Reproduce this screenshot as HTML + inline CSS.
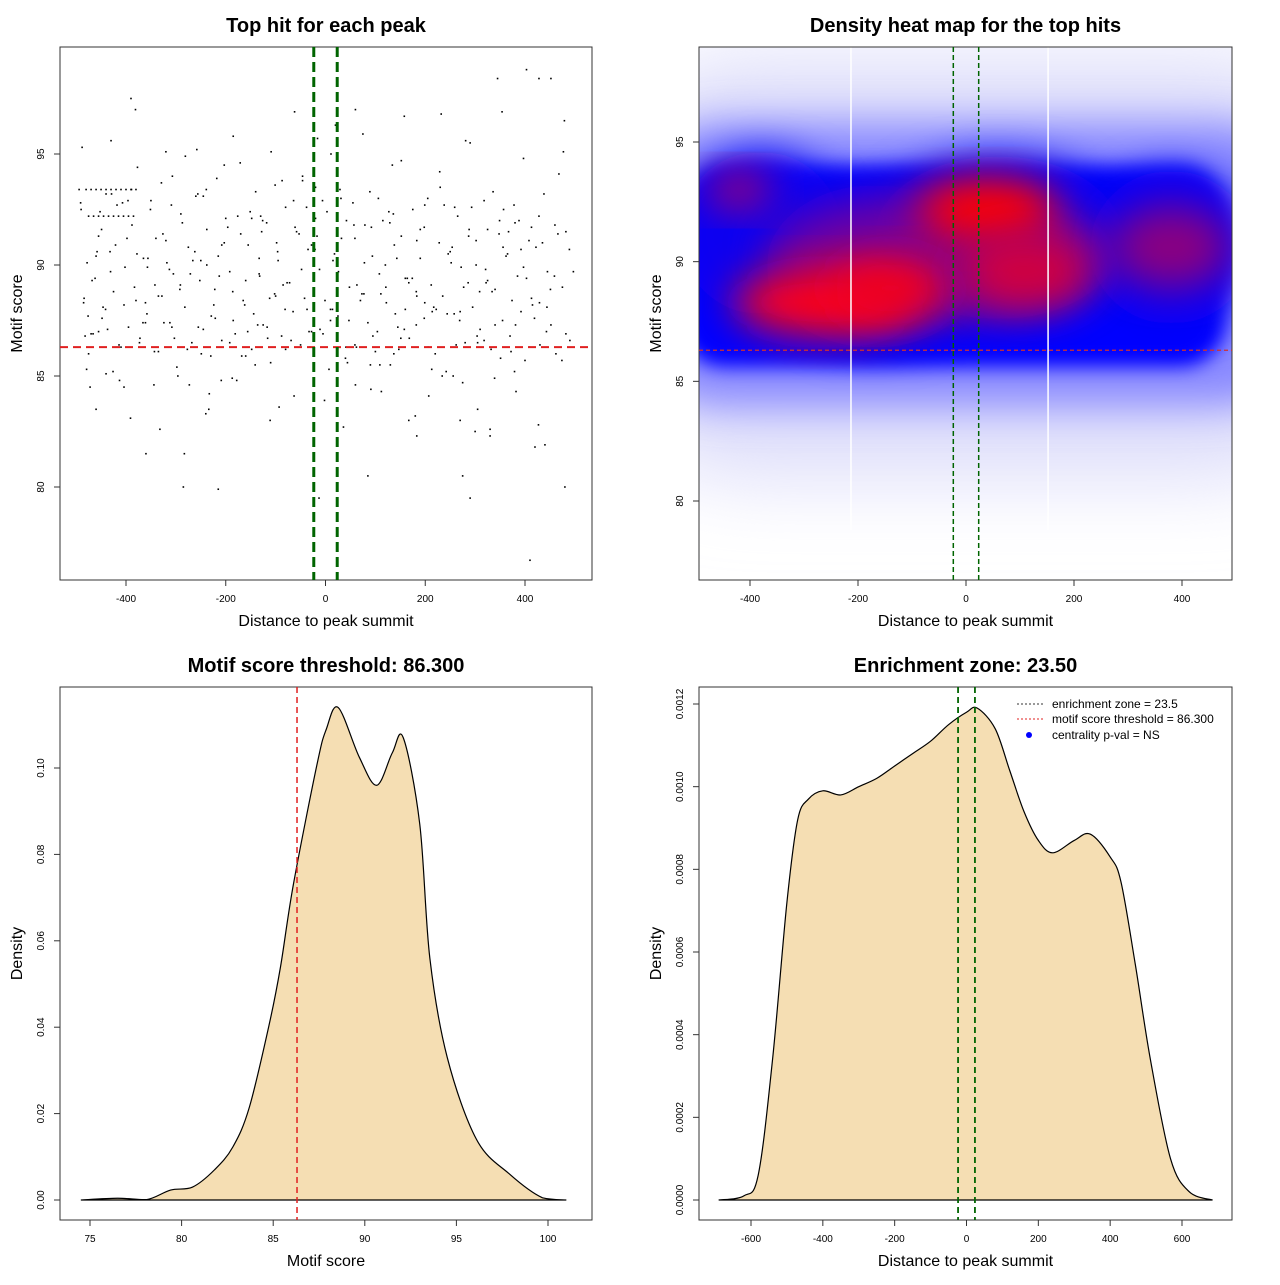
<!DOCTYPE html>
<html><head><meta charset="utf-8"><style>
body{margin:0;background:#fff;overflow:hidden;}
svg text{font-family:"Liberation Sans",sans-serif;}
</style></head><body>
<svg id="s" width="1280" height="1280" viewBox="0 0 1280 1280" xmlns="http://www.w3.org/2000/svg">
<defs>
<clipPath id="c2"><rect x="699" y="47" width="533" height="533"/></clipPath>
<filter id="blur" x="-50%" y="-50%" width="200%" height="200%"><feGaussianBlur stdDeviation="20"/></filter>
<filter id="blurS" x="-50%" y="-50%" width="200%" height="200%"><feGaussianBlur stdDeviation="9"/></filter>
<filter id="blur2" x="-50%" y="-50%" width="200%" height="200%"><feGaussianBlur stdDeviation="40"/></filter>
</defs>
<g id="p1"></g>
<g id="p2"></g>
<g id="p3"></g>
<g id="p4"></g>
</svg>
<script>
// ---- Scatter data (distance, score) ----
const scatterX=[-480,-470,-460,-450,-440,-430,-420,-410,-400,-390,-380,-475,-465,-455,-445,-435,-425,-415,-405,-395,-385,
-490,-485,-478,-470,-462,-455,-448,-440,-432,-425,-418,-410,-402,-395,-388,-380,-372,-365,-358,-350,-342,-335,-328,-320,-312,-305,-298,-290,-282,-275,-268,-260,-252,-245,-238,-230,-222,-215,-208,-200,-192,-185,-178,-170,-162,-155,-148,-140,-132,-125,-118,-110,-102,-95,-88,-80,-72,-65,-58,-50,-42,-35,-28,-20,-12,-5,3,10,18,25,32,40,48,55,62,70,78,85,92,100,108,115,122,130,138,145,152,160,168,175,182,190,198,205,212,220,228,235,242,250,258,265,272,280,288,295,302,310,318,325,332,340,348,355,362,370,378,385,392,400,408,415,422,430,438,445,452,460,468,475,482,490,
-488,-472,-458,-441,-426,-407,-391,-377,-361,-344,-329,-313,-296,-281,-266,-249,-233,-218,-203,-187,-171,-156,-141,-126,-109,-93,-77,-61,-46,-31,-16,-2,14,29,44,59,75,91,106,121,137,152,167,183,198,213,229,244,259,275,290,305,321,336,351,367,382,397,413,428,443,459,474,489,
-484,-466,-449,-431,-413,-396,-378,-361,-343,-326,-308,-291,-273,-256,-238,-221,-203,-186,-168,-151,-133,-116,-98,-81,-63,-46,-28,-11,7,24,42,59,77,94,112,129,147,164,182,199,217,234,252,269,287,304,322,339,357,374,392,409,427,444,462,479,
-479,-455,-430,-404,-381,-356,-332,-307,-283,-258,-234,-209,-185,-160,-136,-111,-87,-62,-38,-13,11,36,60,85,109,134,158,183,207,232,256,281,305,330,354,379,403,428,452,477,
-285,290,410,-360,-240,-460,300,-130,90,160,270,440,-475,60,330,-390,180,420,-215,-320,-20,275,345,20,480,-440,-250,140,380,-100,
-494,-482,-468,-452,-437,-421,-404,-389,-373,-357,-340,-324,-309,-292,-277,-262,-245,-229,-213,-196,-181,-165,-148,-133,-117,-101,-85,-69,-53,-37,-21,-6,10,26,41,57,73,89,104,120,136,151,167,183,199,214,230,246,262,277,293,309,325,340,356,372,388,403,419,435,451,466,482,497,
-491,-476,-460,-446,-429,-414,-398,-383,-366,-351,-335,-318,-303,-287,-271,-255,-239,-224,-208,-192,-176,-160,-144,-128,-112,-96,-80,-64,-48,-33,-17,-1,15,31,47,63,79,95,111,127,143,158,174,190,206,222,238,254,270,286,302,318,334,349,365,381,397,413,429,445,461,477,493];
const scatterY=[93.4,93.4,93.4,93.4,93.4,93.4,93.4,93.4,93.4,93.4,93.4,92.2,92.2,92.2,92.2,92.2,92.2,92.2,92.2,92.2,92.2,
92.5,88.3,90.1,86.9,89.4,91.3,87.6,85.1,90.6,88.8,92.7,86.3,89.9,87.2,91.8,88.4,86.7,90.3,87.8,92.9,89.1,86.1,88.6,91.1,87.4,89.6,85.4,92.3,88.1,90.8,86.5,93.1,89.3,87.1,91.6,85.9,88.9,90.4,86.6,92.1,89.7,87.5,84.8,91.4,88.2,90.9,86.2,93.3,89.5,87.3,91.9,85.6,88.7,90.2,86.8,92.6,89.2,87.9,91.5,86.4,88.5,90.7,87.0,93.5,89.8,86.9,92.4,88.0,90.5,87.7,91.2,85.8,89.0,92.8,86.3,88.4,90.1,87.4,91.7,86.1,89.6,92.0,88.3,85.5,90.9,87.2,91.3,89.4,86.7,92.5,88.8,90.3,87.6,93.0,89.1,86.0,91.0,88.6,85.2,90.6,87.8,92.2,89.9,86.5,91.6,88.1,90.0,87.1,92.9,89.3,86.2,88.9,91.4,87.5,90.4,86.8,92.7,89.5,87.9,85.7,91.1,88.2,90.8,86.4,93.2,89.7,87.3,91.8,
94.1,89.0,91.5,86.6,95.3,84.5,90.6,88.0,85.2,92.8,83.1,94.4,87.4,84.6,93.7,89.8,85.0,94.9,90.2,86.0,84.2,93.9,91.0,84.9,94.6,87.0,85.5,92.0,95.1,83.6,89.2,91.7,94.0,86.3,95.7,83.9,88.0,93.4,85.6,91.2,95.9,84.4,93.0,89.0,86.0,94.7,83.0,88.6,91.7,85.3,94.2,87.8,92.6,84.7,95.5,86.5,89.8,93.3,85.8,91.5,84.3,94.8,88.5,92.2,
87.0,89.5,85.7,90.7,88.5,86.9,91.6,89.7,84.8,92.9,90.5,88.3,86.1,91.4,87.2,89.1,84.6,93.2,90.0,87.6,94.5,88.8,85.9,92.4,89.6,86.7,91.0,88.0,84.1,93.8,90.9,87.1,85.3,89.3,92.0,86.4,88.7,90.4,84.3,91.9,86.2,89.4,87.3,92.7,88.1,85.0,90.1,87.5,91.3,86.8,89.2,84.9,92.5,88.4,90.7,86.3,
82.8,88.1,86.0,96.5,85.3,87.0,95.6,84.5,97.0,90.3,82.6,94.0,81.5,95.2,83.5,84.8,95.8,85.9,87.3,83.0,93.8,96.9,92.6,79.5,95.0,82.7,84.6,80.5,85.5,94.5,96.7,82.3,84.1,96.8,85.0,95.6,83.5,82.3,96.9,85.2,
98.8,98.4,98.4,95.1,80.0,79.5,76.7,81.5,83.3,83.5,82.5,92.2,85.5,88.0,83.0,81.9,86.0,97.0,82.6,97.5,83.2,81.8,79.9,95.1,92.1,80.5,98.4,96.3,80.0,93.2,
90.2,87.8,91.9,88.6,93.4,86.8,89.3,92.4,87.1,90.9,88.2,93.4,86.5,89.9,91.2,87.4,92.7,88.9,86.2,90.6,93.1,87.7,89.5,91.7,86.9,88.4,92.1,90.3,87.2,93.6,89.1,86.6,91.4,88.0,90.7,92.9,87.5,89.7,86.3,91.8,88.7,93.3,87.0,90.0,92.3,86.7,89.2,91.1,88.3,87.9,93.5,90.5,86.4,89.0,92.6,88.8,91.6,87.3,90.8,86.1,92.0,89.4,87.6,91.0,
88.9,91.4,86.9,89.7,92.8,87.7,90.4,88.1,93.2,86.4,91.2,89.0,87.4,92.5,88.6,90.1,86.7,91.9,89.6,87.2,93.4,88.2,90.9,86.5,92.2,89.3,87.8,91.5,88.5,90.6,86.2,92.9,89.8,87.0,91.3,88.4,90.2,93.0,87.5,89.1,91.8,86.8,88.7,92.4,90.3,87.1,89.4,91.6,86.3,88.0,92.7,90.8,87.9,89.2,91.1,86.6,88.8,92.0,90.5,87.3,89.9,91.7,88.3];

// ---- Heatmap blobs (centre distance, centre score, radius dist, radius score, colour) ----
const blobX=[-380,-170,60,380,-50,-420,-260,-140,40,110,380];
const blobY=[91.2,89.8,91.0,90.6,90.2,93.0,88.3,88.9,92.2,89.6,90.6];
const blobRX=[150,200,230,150,320,60,170,110,130,120,110];
const blobRY=[3.4,3.4,3.4,3.2,2.6,0.8,1.4,1.3,1.3,1.6,1.7];
const blobCol=["#1000f0","#1000f0","#1000f0","#1000f0","#7000a0","#a00070","#ff0018","#f00020","#ff0000","#d00040","#8a0080"];

// ---- Score density ----
const scoreX=[74.5,76.5,78.1,79.4,80.6,81.8,82.8,83.7,84.8,85.4,86.1,87.4,87.9,88.55,89.7,90.65,91.5,92.1,93.0,93.55,94.5,96.1,97.9,99.7,101];
const scoreD=[0,0.0004,0.0001,0.0023,0.003,0.007,0.0123,0.0215,0.041,0.054,0.073,0.101,0.109,0.114,0.1025,0.096,0.1035,0.107,0.087,0.056,0.033,0.014,0.006,0.0005,0];
const scoreXTicks=[75,80,85,90,95,100];
const scoreYTicks=[0,0.02,0.04,0.06,0.08,0.10];
const scoreYLabels=["0.00","0.02","0.04","0.06","0.08","0.10"];

// ---- Distance density ----
const distX=[-690,-620,-580,-540,-500,-470,-440,-400,-350,-300,-250,-200,-150,-100,-50,0,30,80,120,160,200,240,300,345,400,430,470,512,568,620,685];
const distD=[0,0.00001,0.00006,0.00034,0.00072,0.00092,0.00097,0.00099,0.00098,0.001,0.00102,0.00105,0.00108,0.00111,0.00115,0.00118,0.00119,0.00114,0.00104,0.00094,0.00087,0.00084,0.00087,0.000885,0.00083,0.00077,0.00057,0.00034,0.0001,0.00002,0];
const distXTicks=[-600,-400,-200,0,200,400,600];
const distYTicks=[0,0.0002,0.0004,0.0006,0.0008,0.001,0.0012];
const distYLabels=["0.0000","0.0002","0.0004","0.0006","0.0008","0.0010","0.0012"];

const scatXTicks=[-400,-200,0,200,400];
const scatYTicks=[80,85,90,95];
const threshold=86.3, zone=23.5;

const NS="http://www.w3.org/2000/svg";
function mk(parent,tag,attrs,text){const e=document.createElementNS(NS,tag);for(const k in attrs)e.setAttribute(k,attrs[k]);if(text!==undefined)e.textContent=text;parent.appendChild(e);return e;}
function lin(d0,d1,r0,r1){return v=>r0+(v-d0)/(d1-d0)*(r1-r0);}

function frame(g,x0,y0,w,h,title,xlab,ylab,xs,ys,xt,yt,ytl){
  mk(g,'rect',{x:x0,y:y0,width:w,height:h,fill:'none',stroke:'#333','stroke-width':1});
  const t=mk(g,'text',{x:x0+w/2,y:y0-15,'text-anchor':'middle','font-size':20,'font-weight':'bold'},title);
  
  const xl=mk(g,'text',{x:x0+w/2,y:y0+h+46,'text-anchor':'middle','font-size':16},xlab);
  
  const cy=y0+h/2;
  const yl=mk(g,'text',{x:0,y:0,transform:`translate(${x0-38},${cy}) rotate(-90)`,'text-anchor':'middle','font-size':16},ylab);
  
  xt.forEach(v=>{const px=xs(v);mk(g,'line',{x1:px,x2:px,y1:y0+h,y2:y0+h+6,stroke:'#333'});
    const tl=mk(g,'text',{x:px,y:y0+h+22,'text-anchor':'middle','font-size':10},String(v));
    });
  yt.forEach((v,i)=>{const py=ys(v);mk(g,'line',{x1:x0-6,x2:x0,y1:py,y2:py,stroke:'#333'});
    const tl=mk(g,'text',{x:0,y:0,transform:`translate(${x0-16},${py}) rotate(-90)`,'text-anchor':'middle','font-size':10},ytl?ytl[i]:String(v));
    });
}

// Panel 1
(function(){
  const g=document.getElementById('p1');
  const xs=lin(-400,400,126,525), ys=lin(80,95,487,154);
  frame(g,60,47,532,533,'Top hit for each peak','Distance to peak summit','Motif score',xs,ys,scatXTicks,scatYTicks);
  const n=Math.min(scatterX.length,scatterY.length);
  for(let i=0;i<n;i++){
    const c=mk(g,'rect',{x:xs(scatterX[i])-0.8,y:ys(scatterY[i])-0.8,width:1.6,height:1.6,fill:'#000'});
    
  }
  const r=mk(g,'line',{x1:60,x2:592,y1:ys(threshold),y2:ys(threshold),stroke:'#e02020','stroke-width':2,'stroke-dasharray':'8,5'});
  
  [-zone,zone].forEach(v=>{const l=mk(g,'line',{x1:xs(v),x2:xs(v),y1:47,y2:580,stroke:'#006400','stroke-width':3,'stroke-dasharray':'10,5'});
    });
})();

// Panel 2
(function(){
  const g=document.getElementById('p2');
  const xs=lin(-400,400,750,1182), ys=lin(80,95,501,142);
  const hg=mk(g,'g',{'clip-path':'url(#c2)'});
  mk(hg,'rect',{x:699,y:47,width:533,height:533,fill:'#fff'});
  mk(hg,'rect',{x:620,y:ys(98.5),width:720,height:ys(81)-ys(98.5),rx:120,fill:'#dcdcfa',filter:'url(#blur2)'});
  mk(hg,'rect',{x:640,y:ys(95.8),width:660,height:ys(84)-ys(95.8),rx:80,fill:'#8888ff',filter:'url(#blur)'});
  mk(hg,'rect',{x:680,y:ys(94.0),width:xs(480)-680,height:ys(85.6)-ys(94.0),rx:45,fill:'#0000ff',filter:'url(#blurS)'});
  for(let i=0;i<blobX.length;i++){
    const e=mk(hg,'ellipse',{cx:xs(blobX[i]),cy:ys(blobY[i]),rx:blobRX[i]*0.54,ry:blobRY[i]*23.9,fill:blobCol[i],filter:'url(#blur)'});
    
  }
  [-213,152].forEach(v=>mk(hg,'line',{x1:xs(v),x2:xs(v),y1:47,y2:530,stroke:'#fff','stroke-width':1.5}));
  frame(g,699,47,533,533,'Density heat map for the top hits','Distance to peak summit','Motif score',xs,ys,scatXTicks,scatYTicks);
  const r=mk(g,'line',{x1:699,x2:1232,y1:ys(threshold),y2:ys(threshold),stroke:'#d03030','stroke-width':1.2,'stroke-dasharray':'4,3'});
  
  [-zone,zone].forEach(v=>{const l=mk(g,'line',{x1:xs(v),x2:xs(v),y1:47,y2:580,stroke:'#006400','stroke-width':1.5,'stroke-dasharray':'5,3'});
    });
})();

function densityPanel(gid,x0,y0,w,h,xs,ys,X,D,title,xlab,xt,yt,ytl){
  const g=document.getElementById(gid);
  frame(g,x0,y0,w,h,title,xlab,'Density',xs,ys,xt,yt,ytl);
  const base=ys(0);
  let d='M'+xs(X[0])+','+ys(D[0]);
  for(let i=1;i<X.length;i++){
    const x0_=xs(X[i-1]),y0_=ys(D[i-1]),x1=xs(X[i]),y1=ys(D[i]);
    const xm=xs(X[Math.max(0,i-2)]),ym=ys(D[Math.max(0,i-2)]);
    const xp=xs(X[Math.min(X.length-1,i+1)]),yp=ys(D[Math.min(X.length-1,i+1)]);
    const c1y=Math.min(base,y0_+(y1-ym)/6), c2y=Math.min(base,y1-(yp-y0_)/6);
    d+=` C${x0_+(x1-xm)/6},${c1y} ${x1-(xp-x0_)/6},${c2y} ${x1},${y1}`;
  }
  d+=' Z';
  const p=mk(g,'path',{d:d,fill:'#f5deb3',stroke:'#000','stroke-width':1.2});
  
  return g;
}

// Panel 3
(function(){
  const xs=lin(75,100,90,548), ys=lin(0,0.1,1200,768);
  const g=densityPanel('p3',60,687,532,533,xs,ys,scoreX,scoreD,'Motif score threshold: 86.300','Motif score',scoreXTicks,scoreYTicks,scoreYLabels);
  const r=mk(g,'line',{x1:xs(threshold),x2:xs(threshold),y1:687,y2:1220,stroke:'#e02020','stroke-width':1.5,'stroke-dasharray':'6,4'});
  
})();

// Panel 4
(function(){
  const xs=lin(-600,600,751,1182), ys=lin(0,0.0012,1200,704);
  const g=densityPanel('p4',699,687,533,533,xs,ys,distX,distD,'Enrichment zone: 23.50','Distance to peak summit',distXTicks,distYTicks,distYLabels);
  [-zone,zone].forEach(v=>{const l=mk(g,'line',{x1:xs(v),x2:xs(v),y1:687,y2:1220,stroke:'#006400','stroke-width':1.8,'stroke-dasharray':'6,4'});
    });
  const lg=mk(g,'g',{});
  
  mk(lg,'line',{x1:1017,x2:1043,y1:704,y2:704,stroke:'#333','stroke-dasharray':'2,2'});
  mk(lg,'text',{x:1052,y:708,'font-size':12},'enrichment zone = 23.5');
  mk(lg,'line',{x1:1017,x2:1043,y1:719,y2:719,stroke:'#e02020','stroke-dasharray':'2,2'});
  mk(lg,'text',{x:1052,y:723,'font-size':12},'motif score threshold = 86.300');
  mk(lg,'circle',{cx:1029,cy:735,r:3,fill:'#0000ff'});
  mk(lg,'text',{x:1052,y:739,'font-size':12},'centrality p-val = NS');
})();
</script>
</body></html>
